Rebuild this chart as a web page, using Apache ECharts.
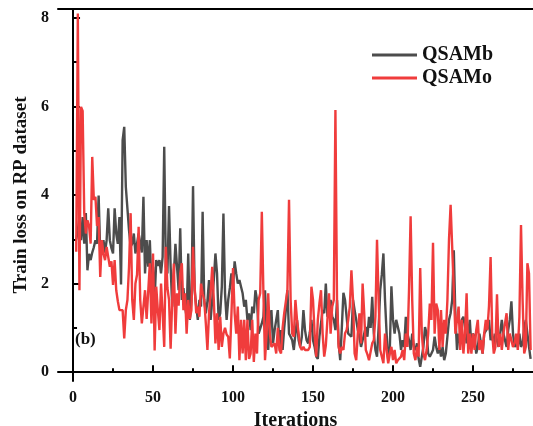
<!DOCTYPE html>
<html>
<head>
<meta charset="utf-8">
<script src="https://cdn.jsdelivr.net/npm/echarts@6/dist/echarts.min.js"></script>
<style>
  html, body { margin: 0; padding: 0; background: #fff; }
  #chart { width: 533px; height: 426px; }
</style>
</head>
<body>
<div id="chart"></div>
<script>
// iterations start at 2
const firstIter = 2;

const qsamb = [
  3.0, 3.2, 3.5, 2.98, 3.5, 2.9, 3.59, 2.3, 2.67, 2.53, 2.7, 2.82, 2.98, 2.9, 3.99, 2.68, 2.8, 2.98, 2.7,
  2.98, 3.7, 2.98, 2.8, 2.68, 3.7, 3.13, 2.9, 3.5, 1.98, 5.24, 5.54, 4.18, 4.18, 3.2, 2.83, 2.9, 3.13, 2.68,
  2.9, 3.13, 3.13, 2.7, 3.96, 2.23, 2.98, 2.38, 2.98, 2.0, 2.38, 1.63, 2.53, 2.4, 2.53, 2.23, 2.6, 5.09,
  2.38, 2.23, 3.75, 2.38, 1.48, 2.2, 2.9, 2.38, 1.85, 3.25, 1.63, 1.9, 1.48, 1.25, 2.68, 1.18, 1.63, 4.2,
  1.85, 1.48, 1.18, 1.63, 1.48, 3.62, 1.63, 1.33, 1.6, 2.08, 1.18, 1.63, 2.08, 2.68, 2.23, 1.18, 1.33, 1.93,
  3.58, 1.78, 1.18, 1.63, 1.9, 2.23, 1.93, 2.5, 2.23, 2.0, 2.08, 1.93, 1.78, 1.48, 1.63, 1.18, 1.33, 0.95,
  1.48, 1.33, 1.85, 1.63, 0.87, 0.87, 1.1, 1.25, 1.85, 0.95, 0.5, 1.18, 1.4, 0.65, 0.95, 1.18, 1.4, 0.57,
  0.95, 0.5, 1.0, 1.4, 1.85, 0.87, 0.8, 0.72, 0.5, 0.87, 1.18, 0.72, 0.57, 0.8, 1.4, 0.95, 0.72, 0.65, 0.9,
  1.18, 0.72, 0.57, 0.35, 0.3, 0.8, 1.1, 1.4, 1.33, 2.0, 1.25, 1.33, 1.63, 1.25, 1.18, 0.95, 1.63, 0.65,
  0.27, 1.0, 1.79, 1.63, 1.25, 0.87, 0.87, 0.8, 1.63, 1.4, 1.18, 0.95, 0.8, 0.57, 0.72, 0.87, 1.02, 0.8,
  1.25, 1.0, 1.7, 0.87, 0.5, 0.35, 1.0, 1.85, 2.2, 2.68, 1.63, 0.87, 0.27, 0.5, 1.94, 1.18, 0.87, 1.18,
  1.18, 0.87, 0.5, 0.72, 0.57, 1.25, 0.87, 0.72, 0.5, 0.87, 0.57, 0.5, 0.65, 0.3, 0.12, 0.35, 0.57, 1.02,
  0.87, 0.42, 0.35, 0.42, 0.5, 0.8, 0.57, 0.42, 0.57, 0.35, 0.57, 0.27, 0.42, 0.8, 1.18, 1.33, 1.63, 2.75,
  1.25, 0.5, 0.87, 0.65, 1.18, 1.25, 1.02, 0.65, 0.87, 1.18, 0.57, 0.87, 0.8, 0.42, 0.57, 0.87, 0.87, 0.42,
  0.87, 0.87, 1.0, 1.18, 0.72, 0.87, 0.57, 0.87, 0.87, 0.57, 0.87, 1.18, 0.87, 0.87, 0.57, 0.95, 1.18, 1.6,
  0.87, 0.57, 0.65, 0.57, 0.87, 0.57, 0.65, 1.0, 1.18, 0.87, 0.57, 0.3
];

const qsamo = [
  2.72, 8.1, 1.85, 5.99, 5.9, 3.59, 3.13, 3.43, 3.3, 2.9, 4.86, 3.89, 3.96, 3.3, 3.5, 2.15, 2.98, 2.68,
  2.53, 2.83, 2.6, 2.38, 2.5, 1.97, 2.53, 1.85, 1.6, 1.4, 1.37, 1.4, 0.76, 1.4, 1.63, 2.38, 3.59, 1.63,
  1.18, 2.0, 2.2, 3.28, 1.63, 1.1, 1.09, 1.85, 1.2, 1.18, 2.46, 1.1, 2.68, 0.49, 1.93, 1.4, 0.95, 2.0,
  1.33, 0.57, 2.83, 1.9, 1.63, 0.53, 1.63, 2.45, 0.87, 1.78, 1.5, 2.23, 2.46, 1.4, 1.78, 0.87, 1.63, 1.2,
  1.4, 2.83, 1.93, 1.33, 1.48, 1.25, 2.0, 1.78, 1.63, 1.1, 0.5, 1.33, 1.8, 2.38, 1.63, 0.65, 1.33, 0.5,
  1.25, 0.57, 0.87, 1.0, 0.85, 0.8, 0.31, 1.3, 2.35, 1.33, 0.87, 1.48, 0.27, 1.18, 0.42, 1.18, 0.27, 1.18,
  0.3, 0.42, 1.18, 0.23, 0.87, 0.42, 1.63, 1.78, 3.62, 1.78, 0.27, 0.87, 1.78, 0.87, 0.57, 0.57, 0.65,
  0.42, 1.0, 0.5, 0.42, 1.0, 1.33, 1.33, 1.85, 3.89, 1.63, 0.87, 0.8, 1.63, 1.18, 0.87, 0.57, 0.5, 0.57,
  0.5, 0.46, 0.5, 0.57, 1.93, 1.63, 0.87, 0.35, 1.18, 1.55, 1.85, 0.87, 0.35, 0.6, 1.18, 1.78, 0.87, 1.48,
  1.63, 5.92, 1.63, 0.57, 0.42, 0.57, 0.5, 0.87, 0.95, 1.18, 1.48, 2.3, 1.63, 0.42, 0.27, 0.87, 1.33, 0.65,
  2.0, 1.33, 0.5, 0.4, 0.27, 0.27, 0.65, 0.72, 1.25, 2.99, 1.63, 0.5, 0.35, 0.2, 0.87, 0.5, 0.2, 0.42,
  0.57, 0.27, 0.5, 0.2, 0.27, 0.31, 0.35, 0.5, 0.27, 0.87, 0.57, 1.85, 3.52, 1.63, 0.42, 0.27, 0.57, 0.35,
  2.35, 0.87, 0.42, 0.27, 0.5, 0.87, 1.55, 1.18, 2.92, 0.87, 1.55, 1.4, 0.5, 1.4, 0.57, 1.18, 0.87, 1.63,
  3.0, 3.78, 3.81, 1.85, 0.87, 0.87, 1.48, 0.5, 1.18, 0.42, 0.87, 1.78, 0.42, 0.87, 0.42, 0.87, 0.5, 0.95,
  1.18, 0.5, 0.72, 0.42, 0.87, 1.18, 0.95, 1.5, 2.6, 0.87, 0.42, 0.57, 1.76, 0.57, 0.87, 0.5, 0.87, 0.87,
  1.33, 0.5, 0.87, 0.72, 0.57, 0.65, 0.87, 0.5, 1.25, 3.32, 1.63, 0.42, 0.57, 2.46, 2.23, 0.5
];

const xMajor = [0, 50, 100, 150, 200, 250];
const xMinor = [25, 75, 125, 175, 225, 275];
const yMajor = [0, 2, 4, 6, 8];
const yMinor = [1, 3, 5, 7];

const font = 'Liberation Serif';
const toPairs = arr => arr.map((v, i) => [firstIter + i, v]);

const chart = echarts.init(document.getElementById('chart'));

const xBase = { type: 'value', min: -9.4, max: 287.5, splitLine: { show: false } };
const yBase = { type: 'value', min: -0.2, max: 8.2, splitLine: { show: false } };

chart.setOption({
  animation: false,
  grid: { left: 58, right: 0, top: 9, bottom: 45, outerBoundsMode: 'none' },
  legend: {
    orient: 'vertical',
    left: 372,
    top: 45,
    padding: 0,
    itemWidth: 45,
    itemHeight: 3,
    itemGap: 3,
    icon: 'rect',
    textStyle: { fontFamily: font, fontWeight: 'bold', fontSize: 20, color: '#111' },
    data: ['QSAMb', 'QSAMo']
  },
  xAxis: [
    Object.assign({}, xBase, {
      position: 'bottom',
      name: 'Iterations',
      nameLocation: 'middle',
      nameGap: 22,
      nameTextStyle: { fontFamily: font, fontWeight: 'bold', fontSize: 20, color: '#111' },
      axisLine: { lineStyle: { color: '#000', width: 2 } },
      axisTick: { inside: true, length: 7, lineStyle: { width: 2, color: '#000' }, customValues: xMajor },
      axisLabel: { customValues: xMajor, margin: 9, fontFamily: font, fontWeight: 'bold', fontSize: 16, color: '#111' }
    }),
    Object.assign({}, xBase, {
      position: 'bottom',
      axisLine: { show: false },
      axisTick: { inside: true, length: 4, lineStyle: { width: 2, color: '#000' }, customValues: xMinor },
      axisLabel: { show: false }
    }),
    Object.assign({}, xBase, {
      position: 'top',
      axisLine: { lineStyle: { color: '#000', width: 2 } },
      axisTick: { show: false },
      axisLabel: { show: false }
    })
  ],
  yAxis: [
    Object.assign({}, yBase, {
      position: 'left',
      name: 'Train loss on RP dataset',
      nameLocation: 'middle',
      nameGap: 25,
      nameTextStyle: { fontFamily: font, fontWeight: 'bold', fontSize: 19, color: '#111' },
      axisLine: { show: true, lineStyle: { color: '#000', width: 2 } },
      axisTick: { show: true, inside: true, length: 7, lineStyle: { width: 2, color: '#000' }, customValues: yMajor },
      axisLabel: { customValues: yMajor, margin: 9, fontFamily: font, fontWeight: 'bold', fontSize: 16, color: '#111' }
    }),
    Object.assign({}, yBase, {
      position: 'left',
      axisLine: { show: false },
      axisTick: { show: true, inside: true, length: 4, lineStyle: { width: 2, color: '#000' }, customValues: yMinor },
      axisLabel: { show: false }
    })
  ],
  graphic: [
    {
      type: 'text',
      left: 75,
      top: 331,
      style: { text: '(b)', fontFamily: font, fontWeight: 'bold', fontSize: 17, fill: '#111' }
    }
  ],
  series: [
    {
      name: 'QSAMb',
      type: 'line',
      xAxisIndex: 0,
      yAxisIndex: 0,
      data: toPairs(qsamb),
      showSymbol: false,
      color: '#4c4c4c',
      lineStyle: { width: 2.4, color: '#4c4c4c' }
    },
    {
      name: 'QSAMo',
      type: 'line',
      xAxisIndex: 0,
      yAxisIndex: 0,
      data: toPairs(qsamo),
      showSymbol: false,
      color: '#f03c3c',
      lineStyle: { width: 2.4, color: '#f03c3c' }
    }
  ]
});
</script>
</body>
</html>
